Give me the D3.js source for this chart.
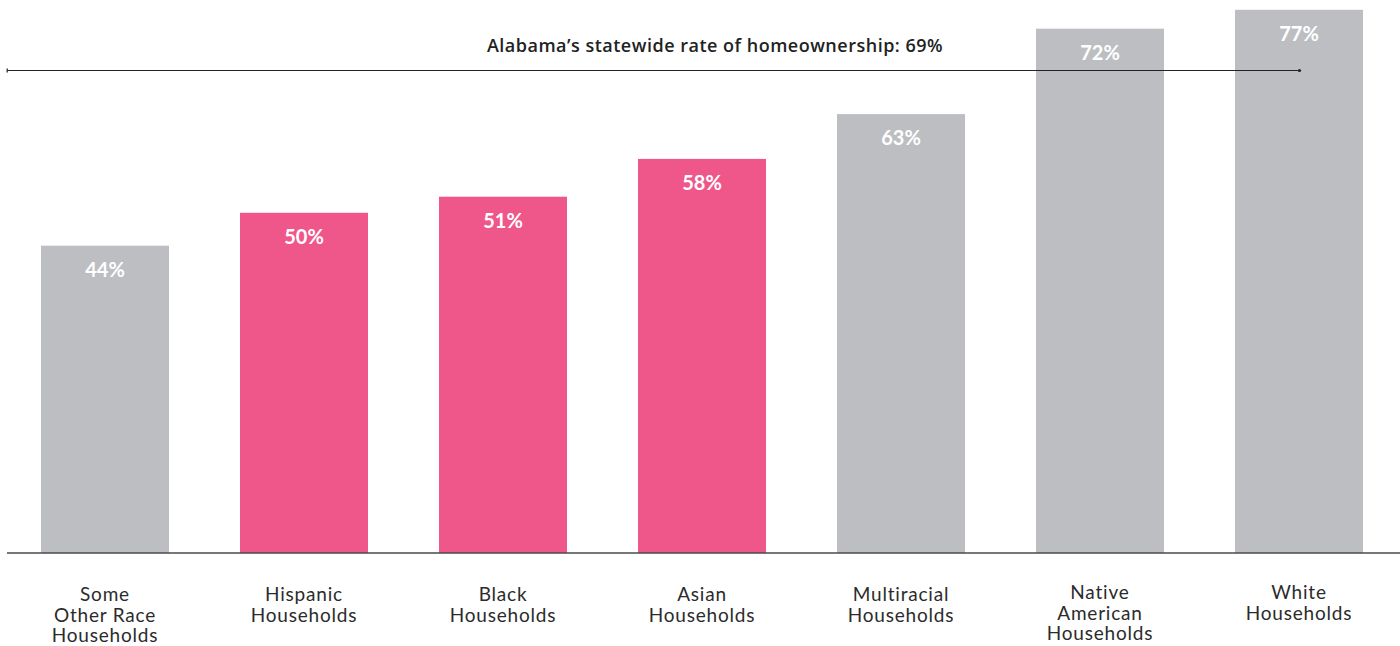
<!DOCTYPE html>
<html>
<head>
<meta charset="utf-8">
<script src="https://cdn.jsdelivr.net/npm/d3@7"></script>
<style>
  body { margin: 0; background: #fff; }
  svg { display: block; font-family: Lato, "Open Sans", sans-serif; }
</style>
</head>
<body>
<script>
/* Data */
var categories = [
  ["Some", "Other Race", "Households"],
  ["Hispanic", "Households"],
  ["Black", "Households"],
  ["Asian", "Households"],
  ["Multiracial", "Households"],
  ["Native", "American", "Households"],
  ["White", "Households"]
];
// bar heights as drawn in the picture, and the labels printed on them
var values = [43.9, 48.6, 50.9, 56.3, 62.7, 74.9, 77.6];
var labels = ["44%", "50%", "51%", "58%", "63%", "72%", "77%"];
var highlighted = [false, true, true, true, false, false, false];
var stateRate = 69;
var stateLabel = "Alabama\u2019s statewide rate of homeownership: 69%";

/* Constants */
var WIDTH = 1400;
const HEIGHT = 646;
var BASE = 553;
var GREY = "#bdbec2";
var PINK = "#ef578b";

var svg = d3.select("body").append("svg")
    .attr("width", WIDTH)
    .attr("height", HEIGHT);

var x = d3.scaleBand()
    .domain(d3.range(values.length))
    .range([41, 1363])
    .paddingInner(71 / 199)
    .paddingOuter(0);

var y = d3.scaleLinear()
    .domain([0, 79])
    .range([BASE, 0]);

// bars
svg.selectAll(".bar")
    .data(values)
    .join("rect")
    .attr("class", "bar")
    .attr("x", (d, i) => x(i))
    .attr("y", d => y(d))
    .attr("width", x.bandwidth())
    .attr("height", d => y(0) - y(d))
    .attr("fill", (d, i) => highlighted[i] ? PINK : GREY);

// value labels
svg.selectAll(".val")
    .data(values)
    .join("text")
    .attr("class", "val")
    .attr("x", (d, i) => x(i) + x.bandwidth() / 2)
    .attr("y", d => y(d) + 31)
    .attr("text-anchor", "middle")
    .attr("fill", "#fff")
    .attr("font-weight", 700)
    .attr("font-size", 20)
    .text((d, i) => labels[i]);

// baseline
svg.append("line")
    .attr("x1", 7).attr("x2", WIDTH)
    .attr("y1", y(0)).attr("y2", y(0))
    .attr("stroke", "#4a4a4a")
    .attr("stroke-width", 1.5);

// statewide rate line
var ry = Math.round(y(stateRate)) + 0.5;
svg.append("line")
    .attr("x1", 7).attr("x2", 1300)
    .attr("y1", ry).attr("y2", ry)
    .attr("stroke", "#222")
    .attr("stroke-width", 1.2);
svg.append("rect")
    .attr("x", 6.5).attr("y", ry - 2)
    .attr("width", 1.5).attr("height", 4)
    .attr("fill", "#444");
svg.append("circle")
    .attr("cx", 1299.5).attr("cy", ry)
    .attr("r", 1.6)
    .attr("fill", "#222");

svg.append("text")
    .attr("x", 715)
    .attr("y", 52)
    .attr("text-anchor", "middle")
    .attr("fill", "#222")
    .attr("font-family", "'Open Sans', Lato, sans-serif")
    .attr("font-weight", 600)
    .attr("font-size", 18)
    .attr("letter-spacing", 0.5)
    .text(stateLabel);

// category labels
var cat = svg.selectAll(".cat")
    .data(categories)
    .join("text")
    .attr("class", "cat")
    .attr("text-anchor", "middle")
    .attr("fill", "#2b2b2b")
    .attr("font-size", 19)
    .attr("letter-spacing", 0.8);

cat.selectAll("tspan")
    .data((d, i) => d.map(t => ({t: t, i: i, n: d.length})))
    .join("tspan")
    .attr("x", d => x(d.i) + x.bandwidth() / 2)
    .attr("y", (d, j) => 601 + j * 20.6 - (d.i >= 5 ? 2 : 0))
    .text(d => d.t);
</script>
</body>
</html>
